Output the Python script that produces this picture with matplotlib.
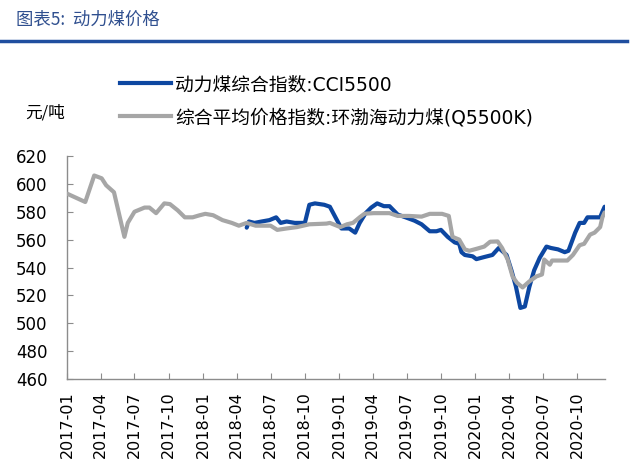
import pandas as pd
import matplotlib
matplotlib.use("Agg")
import matplotlib.pyplot as plt
import matplotlib.dates as mdates
from matplotlib.lines import Line2D

plt.rcParams["font.family"] = ["DejaVu Sans", "Noto Sans CJK SC"]

# ── DATA ──
gray_dates = [
    "2017-01-01", "2017-02-19", "2017-03-15", "2017-04-04", "2017-04-16", "2017-05-07",
    "2017-06-04", "2017-06-13", "2017-07-01", "2017-07-28", "2017-08-10", "2017-08-28",
    "2017-09-19", "2017-10-04", "2017-10-25", "2017-11-13", "2017-12-04", "2017-12-23",
    "2018-01-07", "2018-01-28", "2018-02-22", "2018-03-19", "2018-04-07", "2018-04-28",
    "2018-05-22", "2018-07-01", "2018-07-19", "2018-08-13", "2018-09-10", "2018-10-13",
    "2018-11-28", "2018-12-07", "2019-01-04", "2019-01-22", "2019-02-07", "2019-02-25",
    "2019-03-10", "2019-04-04", "2019-05-16", "2019-06-07", "2019-07-07", "2019-08-10",
    "2019-09-01", "2019-10-04", "2019-10-22", "2019-11-01", "2019-11-19", "2019-12-04",
    "2019-12-16", "2020-01-07", "2020-01-25", "2020-02-10", "2020-03-01", "2020-03-13",
    "2020-03-28", "2020-04-10", "2020-04-22", "2020-05-07", "2020-05-25", "2020-06-13",
    "2020-06-28", "2020-07-04", "2020-07-19", "2020-07-25", "2020-09-04", "2020-09-19",
    "2020-10-07", "2020-10-19", "2020-11-04", "2020-11-16", "2020-12-01", "2020-12-07",
    "2020-12-13",
]
gray_values = [
    593, 587, 606, 604, 599, 594,
    562, 572, 580, 583, 583, 579,
    586, 585.5, 581, 576, 576, 577.5,
    578.5, 577.5, 574, 572, 570, 572,
    570, 570, 567, 568, 569, 571,
    571.5, 572, 569, 571, 572, 576,
    578.6, 579, 579, 577, 577, 576.5,
    578.5, 578.5, 577, 562, 560, 553,
    552, 553.6, 555, 558.5, 558.7, 554,
    545.7, 533.6, 529, 525.7, 530, 533.6,
    535, 545.7, 542, 545, 545, 549,
    556, 557, 563.6, 565, 569, 576,
    579.5,
]

blue_dates = [
    "2018-04-28", "2018-05-04", "2018-05-19", "2018-06-07", "2018-06-28", "2018-07-16",
    "2018-07-28", "2018-08-13", "2018-09-04", "2018-10-01", "2018-10-13", "2018-10-28",
    "2018-11-22", "2018-12-07", "2018-12-28", "2019-01-07", "2019-01-28", "2019-02-13",
    "2019-02-25", "2019-03-13", "2019-03-28", "2019-04-13", "2019-05-01", "2019-05-16",
    "2019-06-07", "2019-06-28", "2019-07-22", "2019-08-10", "2019-09-01", "2019-09-19",
    "2019-10-01", "2019-10-19", "2019-11-07", "2019-11-19", "2019-11-25", "2019-12-04",
    "2019-12-25", "2020-01-04", "2020-01-25", "2020-02-16", "2020-03-04", "2020-03-25",
    "2020-04-07", "2020-04-19", "2020-05-01", "2020-05-13", "2020-05-25", "2020-06-07",
    "2020-06-22", "2020-07-10", "2020-07-22", "2020-08-10", "2020-08-28", "2020-09-07",
    "2020-09-25", "2020-10-07", "2020-10-19", "2020-10-28", "2020-11-16", "2020-12-01",
    "2020-12-07", "2020-12-13",
]
blue_values = [
    568.6, 573, 572, 573, 574, 576,
    572, 573, 572, 572, 585, 586,
    585, 583.6, 573, 568, 568, 565,
    572, 579, 583, 586, 584, 584,
    578, 576, 573.6, 571, 566, 566,
    567, 562, 558, 557, 551, 549,
    548, 546, 547.5, 549, 554, 549,
    538, 526.4, 511, 512, 526, 538,
    547, 555, 554, 553, 551, 552,
    565, 572, 572, 576, 576, 576,
    580, 583.6,
]

blue_label = "动力煤综合指数:CCI5500"
gray_label = "综合平均价格指数:环渤海动力煤(Q5500K)"
tick_dates = pd.date_range("2017-01-01", "2020-10-01", freq="QS")
y_ticks = list(range(460, 621, 20))

BLUE = "#0D47A1"
GRAY = "#A6A6A6"
AXIS = "#8C8C8C"

fig = plt.figure(figsize=(6.4, 4.73), dpi=100)
ax = fig.add_axes([67 / 640, 1 - 379 / 473, (605 - 67) / 640, (379 - 156) / 473])

ax.plot(pd.to_datetime(blue_dates), blue_values, color=BLUE, lw=3.0,
        solid_joinstyle="round", solid_capstyle="round", zorder=3)
ax.plot(pd.to_datetime(gray_dates), gray_values, color=GRAY, lw=3.0,
        solid_joinstyle="round", solid_capstyle="round", zorder=4)

ax.set_ylim(460, 620)
ax.set_yticks(y_ticks)
ax.set_xlim(pd.Timestamp("2017-01-01"), pd.Timestamp("2020-12-14"))
ax.set_xticks(tick_dates)
ax.xaxis.set_major_formatter(mdates.DateFormatter("%Y-%m"))

for s in ["top", "right"]:
    ax.spines[s].set_visible(False)
for s in ["left", "bottom"]:
    ax.spines[s].set_color(AXIS)
    ax.spines[s].set_linewidth(1.0)

ax.tick_params(axis="y", direction="in", length=4, color=AXIS, labelsize=12, pad=14)
ax.tick_params(axis="x", direction="in", length=4, color=AXIS, labelsize=11.5,
               pad=9, labelrotation=90)

# legend above the plot area
handles = [Line2D([0], [0], color=BLUE, lw=3.0), Line2D([0], [0], color=GRAY, lw=3.0)]
fig.legend(handles, [blue_label, gray_label], loc="upper left",
           bbox_to_anchor=(120 / 640, 1 - 75 / 473), frameon=False, fontsize=13.5,
           handlelength=2.7, handletextpad=0.25, labelspacing=0.75, borderpad=0,
           borderaxespad=0)

fig.text(25 / 640, 1 - 113 / 473, "元/吨", fontsize=12, va="center", ha="left",
         family=["Noto Sans CJK SC", "DejaVu Sans"])

# header
fig.text(16 / 640, 1 - 20 / 473, "图表5:  动力煤价格", fontsize=12.5, color="#2F4F8F",
         va="center", ha="left", family=["Noto Sans CJK SC", "DejaVu Sans"])
fig.add_artist(Line2D([0, 627 / 640], [1 - 41.5 / 473] * 2, color="#1F4E9F", lw=2.5))

fig.savefig("out.png", dpi=100, facecolor="white")
